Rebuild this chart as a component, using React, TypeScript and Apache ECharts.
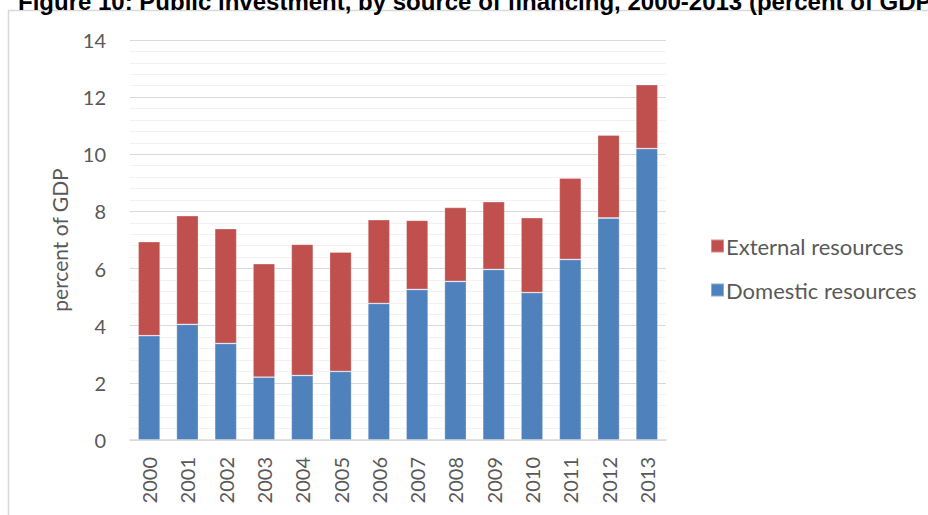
import React, { useEffect, useRef } from "react";
import * as echarts from "echarts";

const years = ["2000","2001","2002","2003","2004","2005","2006","2007","2008","2009","2010","2011","2012","2013"];
const domestic = [3.65, 4.05, 3.38, 2.2, 2.26, 2.4, 4.78, 5.27, 5.55, 5.97, 5.16, 6.32, 7.77, 10.2];
const external = [3.29, 3.8, 4.02, 3.97, 4.59, 4.18, 2.93, 2.42, 2.59, 2.37, 2.62, 2.85, 2.9, 2.24];
const title = "Figure 10: Public investment, by source of financing, 2000-2013 (percent of GDP)";

const FONT = "Lato, 'Liberation Sans', sans-serif";
const TXT = "#595959";

export default function App() {
  const ref = useRef<HTMLDivElement>(null);
  useEffect(() => {
    if (!ref.current) return;
    const chart = echarts.init(ref.current, null, { renderer: "svg" });
    chart.setOption({
      animation: false,
      backgroundColor: "#ffffff",
      textStyle: { fontFamily: FONT, color: TXT },
      grid: { left: 130, right: 262, top: 40, bottom: 75, containLabel: false },
      legend: {
        orient: "vertical",
        left: 705,
        top: 230,
        data: ["External resources", "Domestic resources"],
        itemWidth: 13,
        itemHeight: 13,
        itemGap: 22,
        icon: "rect",
        textStyle: { fontFamily: FONT, fontSize: 22, color: TXT, padding: [0, 0, 0, -3] },
      },
      xAxis: {
        type: "category",
        data: years,
        axisLine: { show: true, lineStyle: { color: "#d9d9d9", width: 1.5 } },
        axisTick: { show: false },
        axisLabel: { rotate: 90, fontSize: 20, color: TXT, fontFamily: FONT, margin: 17 },
      },
      yAxis: {
        type: "value",
        min: 0,
        max: 14,
        interval: 2,
        name: "percent of GDP",
        nameLocation: "middle",
        nameGap: 60,
        nameTextStyle: { fontSize: 21, color: TXT, fontFamily: FONT },
        axisLine: { show: false },
        axisTick: { show: false },
        axisLabel: { fontSize: 20, color: TXT, fontFamily: FONT, margin: 24 },
        splitLine: { show: true, lineStyle: { color: "#d9d9d9", width: 1.2 } },
        minorTick: { show: false, splitNumber: 5 },
        minorSplitLine: { show: true, lineStyle: { color: "#f2f2f2", width: 1.2 } },
      },
      series: [
        {
          name: "Domestic resources",
          type: "bar",
          stack: "total",
          data: domestic,
          barWidth: 22,
          itemStyle: { color: "#4f81bd", borderColor: "rgba(255,255,255,0.35)", borderWidth: 0.8 },
        },
        {
          name: "External resources",
          type: "bar",
          stack: "total",
          data: external,
          barWidth: 22,
          itemStyle: { color: "#c0504d", borderColor: "rgba(255,255,255,0.35)", borderWidth: 0.8 },
        },
      ],
      graphic: [
        {
          type: "rect",
          shape: { x: 8.5, y: 10.5, width: 1000, height: 600 },
          style: { fill: "none", stroke: "#d9d9d9", lineWidth: 1.5 },
          silent: true,
        },
        {
          type: "text",
          x: 18,
          y: 13,
          style: {
            text: title,
            font: "bold 24px 'Liberation Sans', Arial, sans-serif",
            fill: "#000000",
            verticalAlign: "bottom",
          },
          z: 10,
        },
      ],
    });
    return () => chart.dispose();
  }, []);
  return (
    <div
      ref={ref}
      style={{ position: "fixed", left: 0, top: 0, width: 928, height: 515 }}
    />
  );
}
